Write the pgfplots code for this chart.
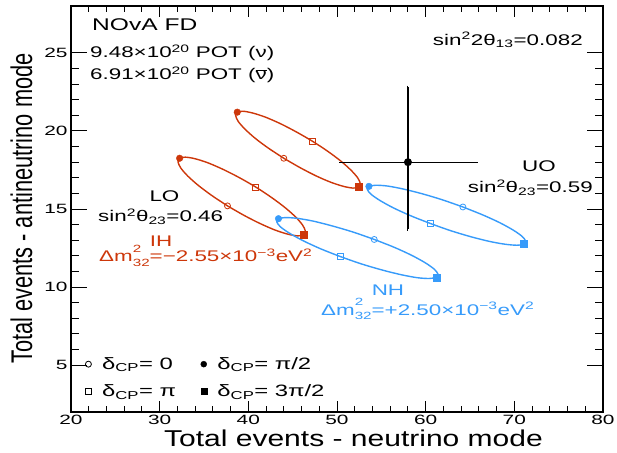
\documentclass[border=0pt]{standalone}
\usepackage{fontspec}
\setmainfont[FakeStretch=1.45]{Liberation Sans}
\newfontfamily\tickfont[FakeStretch=1.55]{Liberation Sans}
\newfontfamily\xlabfont[FakeStretch=1.31]{Liberation Sans}
\newfontfamily\ylabfont[FakeStretch=0.73]{Liberation Sans}
\usepackage{pgfplots}
\pgfplotsset{compat=1.18}
\usetikzlibrary{calc}
\definecolor{ihred}{RGB}{205,55,10}
\definecolor{nhblue}{RGB}{55,155,250}
\newcommand{\sps}[1]{\textsuperscript{#1}}
\newcommand{\sbs}[1]{\textsubscript{#1}}
\newcommand{\spsb}[2]{\rlap{\raisebox{0.62em}{\fontsize{10.5}{12}\selectfont #1}}\raisebox{-0.3em}{\fontsize{10.5}{12}\selectfont #2}}
\tikzset{ann/.style={font=\fontsize{15.5}{18}\selectfont, inner sep=0pt}}
\begin{document}
\begin{tikzpicture}
\begin{axis}[
  scale only axis, width=532bp, height=406bp,
  xmin=20, xmax=80, ymin=2, ymax=28,
  xtick={20,30,...,80}, ytick={5,10,...,25},
  minor x tick num=4, minor y tick num=4,
  tick align=inside, xtick pos=both, ytick pos=both,
  xticklabel pos=lower, yticklabel pos=left,
  axis line style={line width=1.5bp},
  tick style={black, line width=0.9bp},
  every x tick/.append style={/pgfplots/major tick length=11bp, /pgfplots/minor tick length=6bp},
  every y tick/.append style={/pgfplots/major tick length=16bp, /pgfplots/minor tick length=8bp},
  /pgf/number format/assume math mode=true,
  tick label style={font=\tickfont\fontsize{13.5}{15}\selectfont},
  xlabel={Total events - neutrino mode},
  ylabel={Total events - antineutrino mode},
  xlabel style={font=\xlabfont\fontsize{23}{25}\selectfont, inner sep=0pt, at={(rel axis cs:0.531,-0.085)}, anchor=base},
  ylabel style={font=\ylabfont\fontsize{30}{32}\selectfont, inner sep=0pt, at={(rel axis cs:-0.0733,0.501)}, anchor=base},
  legend columns=2, legend cell align=left,
  legend style={at={(rel axis cs:0.0207,0.0296)}, anchor=south west, draw=none, fill=none,
    inner sep=0pt, row sep=11bp, font=\fontsize{16.5}{18}\selectfont, nodes={inner sep=1.5bp},
    /tikz/every even column/.append style={column sep=20bp}},
  legend image code/.code={\path (0bp,0bp) (18bp,0bp); \draw[#1] plot[only marks] coordinates {(6bp,0bp)};},
]
% legend entries
\addlegendimage{only marks, mark=o, black, mark size=3bp, mark options={line width=0.8bp}}
\addlegendentry{δ\sbs{CP}= 0}
\addlegendimage{only marks, mark=*, black, mark size=3bp}
\addlegendentry{δ\sbs{CP}= π/2}
\addlegendimage{only marks, mark=square, black, mark size=3bp, mark options={line width=0.8bp}}
\addlegendentry{δ\sbs{CP}= π}
\addlegendimage{only marks, mark=square*, black, mark size=3bp}
\addlegendentry{δ\sbs{CP}= 3π/2}

% IH, upper octant
\addplot[ihred, line width=1.4bp, smooth, forget plot] coordinates {
(44.00,18.25) (42.28,18.89) (40.79,19.52) (39.63,20.11) (38.87,20.60) (38.57,20.98)
(38.75,21.20) (39.40,21.26) (40.47,21.15) (41.89,20.89) (43.56,20.48) (45.37,19.95)
(47.20,19.35) (48.92,18.71) (50.41,18.08) (51.57,17.49) (52.33,17.00) (52.63,16.62)
(52.45,16.40) (51.80,16.34) (50.73,16.45) (49.31,16.71) (47.64,17.12) (45.83,17.65)
(44.00,18.25)};
% IH, lower octant
\addplot[ihred, line width=1.4bp, smooth, forget plot] coordinates {
(37.65,15.20) (35.89,15.86) (34.36,16.51) (33.17,17.11) (32.39,17.62) (32.07,18.01)
(32.25,18.25) (32.90,18.32) (33.99,18.22) (35.43,17.96) (37.14,17.54) (38.98,17.01)
(40.85,16.40) (42.61,15.74) (44.14,15.09) (45.33,14.49) (46.11,13.98) (46.43,13.59)
(46.25,13.35) (45.60,13.28) (44.51,13.38) (43.07,13.64) (41.36,14.06) (39.52,14.59)
(37.65,15.20)};
% NH, upper octant
\addplot[nhblue, line width=1.4bp, smooth, forget plot] coordinates {
(64.20,15.13) (61.87,15.59) (59.58,15.98) (57.47,16.28) (55.70,16.47) (54.38,16.52)
(53.60,16.45) (53.42,16.25) (53.85,15.94) (54.86,15.54) (56.37,15.07) (58.30,14.57)
(60.50,14.08) (62.83,13.61) (65.12,13.22) (67.23,12.92) (69.00,12.74) (70.32,12.68)
(71.10,12.75) (71.28,12.95) (70.85,13.26) (69.84,13.66) (68.33,14.13) (66.40,14.63)
(64.20,15.13)};
% NH, lower octant
\addplot[nhblue, line width=1.4bp, smooth, forget plot] coordinates {
(54.20,13.05) (51.83,13.52) (49.50,13.91) (47.35,14.22) (45.54,14.40) (44.20,14.45)
(43.40,14.38) (43.21,14.17) (43.64,13.85) (44.67,13.44) (46.21,12.96) (48.16,12.45)
(50.40,11.95) (52.77,11.48) (55.11,11.09) (57.25,10.79) (59.06,10.60) (60.41,10.55)
(61.20,10.63) (61.39,10.83) (60.96,11.15) (59.94,11.56) (58.40,12.04) (56.44,12.55)
(54.20,13.05)};

% markers: IH
\addplot[ihred, only marks, mark=o, mark size=3bp, mark options={line width=0.8bp}, forget plot] coordinates {(44.00,18.25) (37.65,15.20)};
\addplot[ihred, only marks, mark=*, mark size=3.3bp, forget plot] coordinates {(38.75,21.20) (32.25,18.25)};
\addplot[ihred, only marks, mark=square, mark size=3bp, mark options={line width=0.8bp}, forget plot] coordinates {(47.20,19.35) (40.85,16.40)};
\addplot[ihred, only marks, mark=square*, mark size=3.5bp, forget plot] coordinates {(52.45,16.40) (46.25,13.35)};
% markers: NH
\addplot[nhblue, only marks, mark=o, mark size=3bp, mark options={line width=0.8bp}, forget plot] coordinates {(64.20,15.13) (54.20,13.05)};
\addplot[nhblue, only marks, mark=*, mark size=3.3bp, forget plot] coordinates {(53.60,16.45) (43.40,14.38)};
\addplot[nhblue, only marks, mark=square, mark size=3bp, mark options={line width=0.8bp}, forget plot] coordinates {(60.50,14.08) (50.40,11.95)};
\addplot[nhblue, only marks, mark=square*, mark size=3.5bp, forget plot] coordinates {(71.10,12.75) (61.20,10.63)};

% data point
\addplot[black, mark=*, mark size=3.3bp, line width=1.3bp, forget plot,
  error bars/.cd, x dir=both, y dir=both, x explicit, y explicit,
  error bar style={line width=1.3bp}, error mark=-, error mark options={black, mark size=1.5bp, line width=1bp}]
  coordinates {(58,18) += (7.7,4.8) -= (7.6,4.3)};

% annotations
\node[ann, anchor=base west, font=\fontsize{17}{19}\selectfont] at (axis cs:22.37,26.42) {NOvA FD};
\node[ann, anchor=base west] at (axis cs:22.14,24.70) {9.48×10\sps{20} POT (ν)};
\node[ann, anchor=base west] at (axis cs:22.14,23.29) {6.91×10\sps{20} POT ($\overline{\mbox{ν}}$)};
\node[ann, anchor=base east] at (axis cs:77.74,25.50) {sin\sps{2}2θ\sbs{13}=0.082};
\node[ann, anchor=base] at (axis cs:72.78,17.37) {UO};
\node[ann, anchor=base east] at (axis cs:78.87,16.03) {sin\sps{2}θ\sbs{23}=0.59};
\node[ann, anchor=base] at (axis cs:30.54,15.45) {LO};
\node[ann, anchor=base west] at (axis cs:23.05,14.17) {sin\sps{2}θ\sbs{23}=0.46};
\node[ann, anchor=base, text=ihred] at (axis cs:30.15,12.60) {IH};
\node[ann, anchor=base west, text=ihred] at (axis cs:23.16,11.61) {Δm\spsb{2}{32}=−2.55×10\sps{−3}eV\sps{2}};
\node[ann, anchor=base, text=nhblue] at (axis cs:55.75,9.45) {NH};
\node[ann, anchor=base west, text=nhblue] at (axis cs:48.19,8.21) {Δm\spsb{2}{32}=+2.50×10\sps{−3}eV\sps{2}};

\coordinate (bl) at (rel axis cs:0,0);
\coordinate (tr) at (rel axis cs:1,1);
\end{axis}
\pgfresetboundingbox
\path ($(bl)+(-71bp,-41bp)$) rectangle ($(tr)+(14bp,6bp)$);
\end{tikzpicture}
\end{document}
